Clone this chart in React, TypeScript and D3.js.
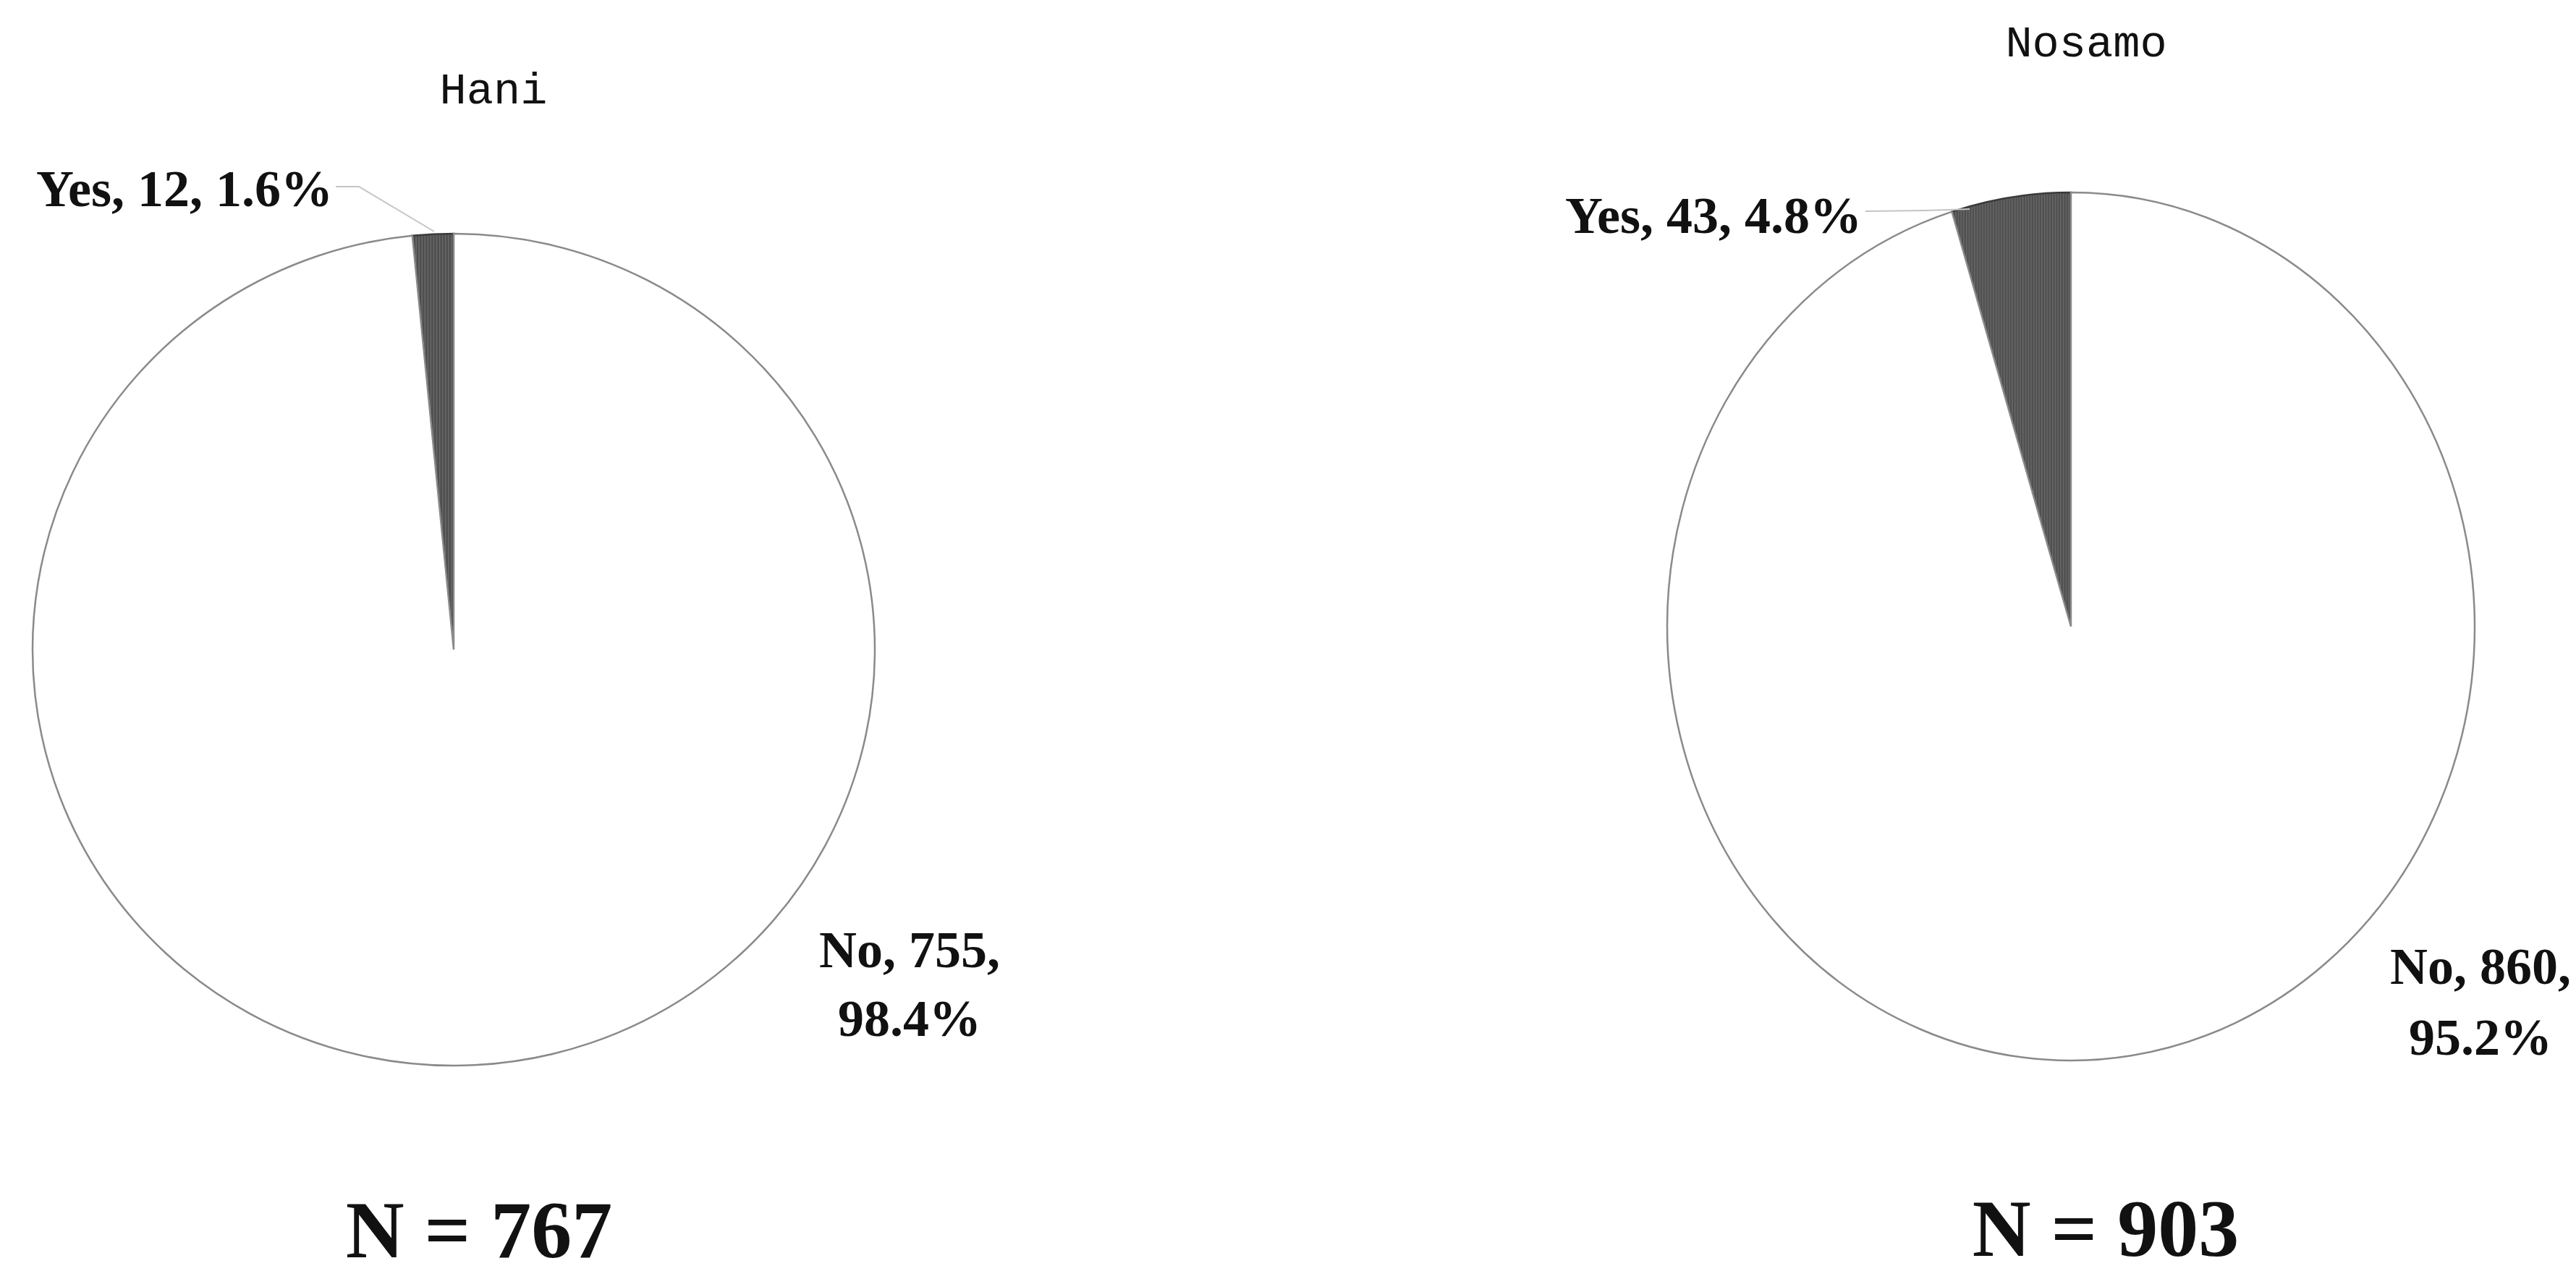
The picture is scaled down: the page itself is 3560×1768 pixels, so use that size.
import React from "react";
import * as d3 from "d3";

// ---- data ----
const groups = ["Hani", "Nosamo"];
const categories = ["Yes", "No"];
const yesCounts = [12, 43];
const noCounts = [755, 860];

// ---- layout (per pie) ----
const layouts = [
  {
    cx: 627, cy: 898, rx: 582, ry: 575,
    title: { x: 682, y: 143 },
    yesLabel: { x: 460, y: 285 },
    yesLeader: [[464, 258], [496, 258], [600, 320]],
    noLabel: { x: 1257, y1: 1337, y2: 1432 },
    nLabel: { x: 662, y: 1738 },
  },
  {
    cx: 2862, cy: 866, rx: 558, ry: 600,
    title: { x: 2883, y: 78 },
    yesLabel: { x: 2573, y: 322 },
    yesLeader: [[2578, 292], [2660, 291], [2722, 289]],
    noLabel: { x: 3428, y1: 1360, y2: 1458 },
    nLabel: { x: 2910, y: 1736 },
  },
];

const W = 3560;
const H = 1768;

function Pie({ i }: { i: number }) {
  const L = layouts[i];
  const counts = [yesCounts[i], noCounts[i]];
  const total = d3.sum(counts);
  const yesFrac = counts[0] / total;
  const start = -yesFrac * 2 * Math.PI;
  const pie = d3
    .pie<number>()
    .sort(null)
    .value((d) => d)
    .startAngle(start)
    .endAngle(start + 2 * Math.PI);
  const arcs = pie(counts);
  const arc = d3.arc<d3.PieArcDatum<number>>().innerRadius(0).outerRadius(L.ry);
  const pct = (v: number) => d3.format(".1f")((v / total) * 100) + "%";
  const line = d3.line();
  const fills = ["url(#hatch)", "#ffffff"];
  const serif = "'Liberation Serif', 'Times New Roman', serif";
  return (
    <g>
      <text
        x={L.title.x}
        y={L.title.y}
        textAnchor="middle"
        fontFamily="'Liberation Mono', monospace"
        fontSize={62}
        fill="#111"
      >
        {groups[i]}
      </text>
      <g transform={`translate(${L.cx},${L.cy}) scale(${L.rx / L.ry},1)`}>
        {arcs.map((a, k) => (
          <path
            key={k}
            d={arc(a) || ""}
            fill={fills[k]}
            stroke={k === 0 ? "#3a3a3a" : "#8a8a8a"}
            strokeWidth={2.5}
            vectorEffect="non-scaling-stroke"
          />
        ))}
      </g>
      <path
        d={line(L.yesLeader as [number, number][]) || ""}
        fill="none"
        stroke="#c4c4c4"
        strokeWidth={2}
      />
      <text
        x={L.yesLabel.x}
        y={L.yesLabel.y}
        textAnchor="end"
        fontFamily={serif}
        fontWeight="bold"
        fontSize={72}
        fill="#111"
      >
        {`${categories[0]}, ${counts[0]}, ${pct(counts[0])}`}
      </text>
      <text
        x={L.noLabel.x}
        y={L.noLabel.y1}
        textAnchor="middle"
        fontFamily={serif}
        fontWeight="bold"
        fontSize={72}
        fill="#111"
      >
        {`${categories[1]}, ${counts[1]},`}
      </text>
      <text
        x={L.noLabel.x}
        y={L.noLabel.y2}
        textAnchor="middle"
        fontFamily={serif}
        fontWeight="bold"
        fontSize={72}
        fill="#111"
      >
        {pct(counts[1])}
      </text>
      <text
        x={L.nLabel.x}
        y={L.nLabel.y}
        textAnchor="middle"
        fontFamily={serif}
        fontWeight="bold"
        fontSize={112}
        fill="#111"
      >
        {`N = ${total}`}
      </text>
    </g>
  );
}

export default function App() {
  return (
    <>
      <style>{"body{margin:0}"}</style>
      <svg width={W} height={H} style={{ display: "block", background: "#fff" }}>
        <defs>
          <pattern id="hatch" patternUnits="userSpaceOnUse" width={4} height={4}>
            <rect width={4} height={4} fill="#4e4e4e" />
            <rect width={1.5} height={4} fill="#6a6a6a" />
          </pattern>
        </defs>
        <rect width={W} height={H} fill="#fff" />
        {groups.map((g, i) => (
          <Pie key={g} i={i} />
        ))}
      </svg>
    </>
  );
}
